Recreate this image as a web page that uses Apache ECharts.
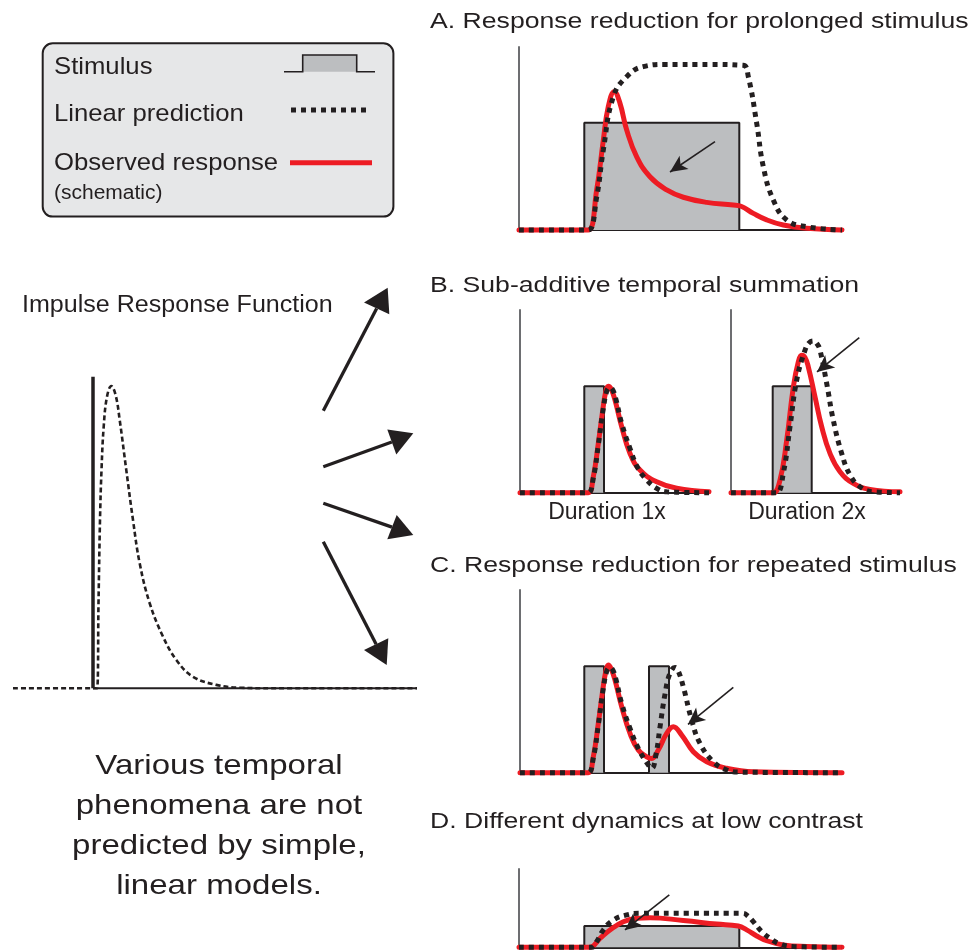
<!DOCTYPE html>
<html>
<head>
<meta charset="utf-8">
<script src="https://cdn.jsdelivr.net/npm/echarts@6/dist/echarts.min.js"></script>
<style>
html,body{margin:0;padding:0;background:#fff;}
#chart{width:974px;height:950px;}
</style>
</head>
<body>
<div id="chart"></div>
<script>
// ---------- DATA (x = time units, y = normalised response) ----------
// Impulse response function
const IRF_impulse = [[80, 0], [80, 1]];
const IRF_curve = [[0,0],[84,0],[85.5,0.273],[87,0.54],[88.5,0.70],[90.7,0.84],[94,0.936],[98.3,0.97],[102.7,0.94],[106.7,0.861],[113.3,0.70],[120,0.54],[126.7,0.401],[136.7,0.273],[150,0.166],[163.3,0.091],[180,0.037],[203.3,0.011],[226.7,0.002],[260,0],[404,0]];

// A. Prolonged stimulus
const A_stimulus = [[65.3, 220.3]];
const A_stimAmp = 0.586;
const A_linear = [[0,0],[60,0],[69.3,0],[77.7,0.18],[84.3,0.437],[94.3,0.728],[107.7,0.838],[124.3,0.893],[147,0.905],[190,0.905],[224,0.9],[229.3,0.838],[237.7,0.583],[244.3,0.346],[254.3,0.164],[267.7,0.055],[287.7,0.018],[323,0]];
const A_observed = [[0,0],[60,0],[69.3,0],[77.7,0.22],[84.3,0.49],[89.3,0.674],[95.3,0.756],[101,0.692],[107.7,0.546],[117.7,0.40],[131,0.291],[147.7,0.219],[164.3,0.179],[187.7,0.151],[214.3,0.137],[222,0.13],[234.3,0.091],[247.7,0.055],[264.3,0.027],[287.7,0.009],[323,0]];
const A_arrow = [[196, 0.483], [151, 0.317]];

// B. Sub-additive temporal summation
const B1_stimulus = [[64.3, 84]];
const B1_stimAmp = 0.583;
const B1_linear = [[0,0],[60,0],[68.3,0],[73.3,0.08],[78.3,0.26],[83,0.45],[87,0.56],[90,0.576],[93,0.56],[96,0.51],[101.7,0.379],[110,0.242],[118,0.133],[126.7,0.07],[136.7,0.024],[146.7,0.005],[189,0]];
const B1_observed = [[0,0],[60,0],[68.3,0],[73.3,0.087],[78.3,0.27],[82.7,0.45],[86,0.56],[88.3,0.583],[91,0.57],[95,0.507],[101.7,0.361],[110,0.215],[120,0.124],[136.7,0.06],[156.7,0.024],[189,0.005]];
const B2_stimulus = [[41.7, 80.7]];
const B2_stimAmp = 0.583;
const B2_linear = [[0,0],[38,0],[45.7,0],[52.3,0.106],[59,0.361],[65.7,0.616],[74,0.78],[78,0.82],[82.3,0.831],[86,0.815],[89,0.78],[95.7,0.598],[102.3,0.397],[110.7,0.215],[119,0.097],[129,0.033],[142.3,0.005],[169,0]];
const B2_observed = [[0,0],[35,0],[42.3,0],[49,0.069],[55.7,0.288],[62.3,0.577],[67.3,0.716],[70.7,0.752],[74,0.74],[77.3,0.689],[84,0.525],[90.7,0.361],[99,0.215],[109,0.115],[122.3,0.051],[139,0.018],[169,0.005]];
const B2_arrow = [[128.3, 0.849], [86, 0.661]];
const B_labels = ['Duration 1x', 'Duration 2x'];

// C. Repeated stimulus
const C_stimulus = [[64.3, 84], [129, 149]];
const C_stimAmp = 0.583;
const C_linear = [[0,0],[60,0],[68.3,0],[73.3,0.08],[78.3,0.26],[83,0.45],[87,0.56],[90,0.576],[93,0.56],[96,0.51],[101.7,0.379],[110,0.242],[118.3,0.133],[126.7,0.055],[131.7,0.024],[136,0.1],[140,0.25],[145,0.43],[150,0.545],[155,0.576],[158,0.56],[163.3,0.47],[171.7,0.288],[180,0.16],[193.3,0.06],[206.7,0.015],[220,0.003],[322,0]];
const C_observed = [[0,0],[60,0],[68.3,0],[73.3,0.087],[78.3,0.27],[82.7,0.45],[86,0.56],[88.3,0.589],[91,0.57],[95,0.507],[101.7,0.361],[110,0.215],[118.3,0.124],[126.7,0.087],[131.7,0.078],[138.3,0.124],[146.7,0.215],[153.3,0.251],[161.7,0.206],[173.3,0.115],[186.7,0.06],[206.7,0.024],[233.3,0.005],[322,0]];
const C_arrow = [[213.3, 0.467], [168, 0.264]];

// D. Low contrast
const D_stimulus = [[65.3, 220.3]];
const D_stimAmp = 0.116;
const D_linear = [[0,0],[65,0],[72.7,0],[77.7,0.031],[84.3,0.095],[94.3,0.149],[107.7,0.177],[121,0.186],[170,0.186],[224,0.186],[229,0.17],[234.3,0.14],[242.7,0.086],[251,0.049],[261,0.018],[274.3,0.004],[323,0]];
const D_observed = [[0,0],[65,0],[71,0],[81,0.049],[91,0.095],[104.3,0.14],[117.7,0.158],[131,0.162],[164.3,0.146],[197.7,0.127],[219.3,0.116],[227.7,0.095],[237.7,0.062],[247.7,0.036],[264.3,0.013],[287.7,0.004],[323,0]];
const D_arrow = [[150.3, 0.286], [106, 0.095]];

// Text
const panelTitles = ['A. Response reduction for prolonged stimulus', 'B. Sub-additive temporal summation', 'C. Response reduction for repeated stimulus', 'D. Different dynamics at low contrast'];
const legendLabels = ['Stimulus', 'Linear prediction', 'Observed response', '(schematic)'];
const irfLabel = 'Impulse Response Function';
const captionLines = ['Various temporal', 'phenomena are not', 'predicted by simple,', 'linear models.'];

// ---------- STYLE ----------
const INK = '#231f20';
const RED = '#ed1c24';
const GREY_FILL = '#bcbec0';
const FONT = "'Liberation Sans', Arial, Helvetica, sans-serif";

// grids: [left, top, width, height, xmax, ymax, showAxes]
const grids = [
  [13, 376.7, 404, 311.6, 404, 1, false],   // IRF
  [519, 47, 323, 183, 323, 1, true],        // A
  [520, 310, 189, 182.7, 189, 1, true],     // B1
  [731, 310, 169, 182.7, 169, 1, true],     // B2
  [520, 590, 322, 182.7, 322, 1, true],     // C
  [519, 869, 323, 78.3, 323, 78.3/183, true] // D
];

function stepPoints(pulses, amp) {
  const pts = [];
  pulses.forEach(function (p) {
    pts.push([p[0], 0], [p[0], amp], [p[1], amp], [p[1], 0]);
  });
  return pts;
}

const series = [];
function addStim(gi, pulses, amp) {
  pulses.forEach(function (p) {
    series.push({
      type: 'line', xAxisIndex: gi, yAxisIndex: gi, data: stepPoints([p], amp),
      symbol: 'none', clip: false, z: 2,
      lineStyle: { color: INK, width: 2 },
      areaStyle: { color: GREY_FILL, opacity: 1 }
    });
  });
}
function addObserved(gi, data) {
  series.push({
    type: 'line', xAxisIndex: gi, yAxisIndex: gi, data: data, smooth: 0.45,
    symbol: 'none', clip: false, z: 3,
    lineStyle: { color: RED, width: 5, cap: 'round' }
  });
}
function addLinear(gi, data, arrow) {
  const s = {
    type: 'line', xAxisIndex: gi, yAxisIndex: gi, data: data, smooth: 0.45,
    symbol: 'none', clip: false, z: 4,
    lineStyle: { color: INK, width: 5, type: [5, 5], cap: 'butt' }
  };
  if (arrow) {
    s.markLine = {
      silent: true, animation: false, symbol: ['none', 'arrow'], symbolSize: [12, 17],
      label: { show: false },
      lineStyle: { color: INK, width: 1.6, type: 'solid' },
      data: [[{ coord: arrow[0] }, { coord: arrow[1] }]]
    };
  }
  series.push(s);
}

// IRF
series.push({ type: 'line', xAxisIndex: 0, yAxisIndex: 0, data: [[IRF_impulse[0][0], 0], [404, 0]], symbol: 'none', clip: false, z: 2, lineStyle: { color: INK, width: 2 } });
series.push({ type: 'line', xAxisIndex: 0, yAxisIndex: 0, data: IRF_impulse, symbol: 'none', clip: false, z: 3, lineStyle: { color: INK, width: 3.5 } });
series.push({ type: 'line', xAxisIndex: 0, yAxisIndex: 0, data: IRF_curve, smooth: 0.4, symbol: 'none', clip: false, z: 4, lineStyle: { color: INK, width: 2.6, type: [5, 3] } });

addStim(1, A_stimulus, A_stimAmp); addObserved(1, A_observed); addLinear(1, A_linear, A_arrow);
addStim(2, B1_stimulus, B1_stimAmp); addObserved(2, B1_observed); addLinear(2, B1_linear, null);
addStim(3, B2_stimulus, B2_stimAmp); addObserved(3, B2_observed); addLinear(3, B2_linear, B2_arrow);
addStim(4, C_stimulus, C_stimAmp); addObserved(4, C_observed); addLinear(4, C_linear, C_arrow);
addStim(5, D_stimulus, D_stimAmp); addObserved(5, D_observed); addLinear(5, D_linear, D_arrow);

const gridOpt = grids.map(function (g) { return { left: g[0], top: g[1], width: g[2], height: g[3] }; });
const xAxes = grids.map(function (g, i) {
  return { gridIndex: i, type: 'value', min: 0, max: g[4], show: true,
    axisLine: { show: g[6], onZero: false, lineStyle: { color: INK, width: 2 } },
    axisTick: { show: false }, axisLabel: { show: false }, splitLine: { show: false } };
});
const yAxes = grids.map(function (g, i) {
  return { gridIndex: i, type: 'value', min: 0, max: g[5], show: true,
    axisLine: { show: g[6], onZero: false, lineStyle: { color: '#6d6e71', width: 2 } },
    axisTick: { show: false }, axisLabel: { show: false }, splitLine: { show: false } };
});

// ---------- GRAPHIC (text, legend box, big arrows) ----------
function txt(s, x, y, size, sx, align) {
  return { type: 'text', x: x, y: y, scaleX: sx, silent: true, z: 10,
    style: { text: s, fill: INK, font: size + 'px ' + FONT, fontSize: size, fontFamily: FONT,
      align: align || 'left', verticalAlign: 'middle', textAlign: align || 'left', textVerticalAlign: 'middle' } };
}
const graphics = [];
// legend box
graphics.push({ type: 'rect', shape: { x: 42.7, y: 43.3, width: 350.7, height: 173.3, r: 10 }, style: { fill: '#e6e7e8', stroke: INK, lineWidth: 2 }, z: 1 });
graphics.push(txt(legendLabels[0], 54, 67.5, 24, 1.07));
graphics.push(txt(legendLabels[1], 54, 114.5, 24, 1.07));
graphics.push(txt(legendLabels[2], 54, 163.5, 24, 1.07));
graphics.push(txt(legendLabels[3], 54, 193.5, 20, 1.05));
graphics.push({ type: 'rect', shape: { x: 302.7, y: 55, width: 54, height: 16.7 }, style: { fill: GREY_FILL }, z: 2 });
graphics.push({ type: 'polyline', shape: { points: [[284, 71.7], [302.7, 71.7], [302.7, 55], [356.7, 55], [356.7, 71.7], [375, 71.7]] }, style: { stroke: INK, lineWidth: 1.6, fill: null }, z: 3 });
graphics.push({ type: 'line', shape: { x1: 291, y1: 110, x2: 369, y2: 110 }, style: { stroke: INK, lineWidth: 5, lineDash: [5, 5] }, z: 3 });
graphics.push({ type: 'line', shape: { x1: 290, y1: 162.7, x2: 372, y2: 162.7 }, style: { stroke: RED, lineWidth: 5 }, z: 3 });

// titles
graphics.push(txt(panelTitles[0], 430, 21.5, 22, 1.21));
graphics.push(txt(panelTitles[1], 430, 285.5, 22, 1.21));
graphics.push(txt(panelTitles[2], 430, 565.5, 22, 1.21));
graphics.push(txt(panelTitles[3], 430, 821.5, 22, 1.21));
graphics.push(txt(B_labels[0], 607, 513, 23, 1.0, 'center'));
graphics.push(txt(B_labels[1], 807, 513, 23, 1.0, 'center'));
graphics.push(txt(irfLabel, 22, 306, 23, 1.09));
captionLines.forEach(function (l, i) { graphics.push(txt(l, 219, 766 + i * 40, 28, 1.18, 'center')); });

// big arrows
const bigArrows = [
  { tail: [323.3, 410.7], apex: [387.7, 287.8], b1: [364, 302.5], b2: [389.3, 314.3] },
  { tail: [323.3, 466.7], apex: [413.3, 433.3], b1: [387.3, 429.5], b2: [396.3, 454.5] },
  { tail: [323.3, 503.3], apex: [413.3, 535], b1: [396.7, 515], b2: [387.3, 539.3] },
  { tail: [323.3, 541.7], apex: [386.7, 665], b1: [364, 650], b2: [388.3, 638.3] }
];
bigArrows.forEach(function (a) {
  const mx = (a.b1[0] + a.b2[0]) / 2, my = (a.b1[1] + a.b2[1]) / 2;
  graphics.push({ type: 'line', shape: { x1: a.tail[0], y1: a.tail[1], x2: mx, y2: my }, style: { stroke: INK, lineWidth: 3.3 }, z: 5 });
  graphics.push({ type: 'polygon', shape: { points: [a.apex, a.b1, a.b2] }, style: { fill: INK }, z: 5 });
});

const chart = echarts.init(document.getElementById('chart'), null, { renderer: 'canvas' });
chart.setOption({
  animation: false,
  backgroundColor: '#ffffff',
  grid: gridOpt,
  xAxis: xAxes,
  yAxis: yAxes,
  series: series,
  graphic: graphics
});
</script>
</body>
</html>
